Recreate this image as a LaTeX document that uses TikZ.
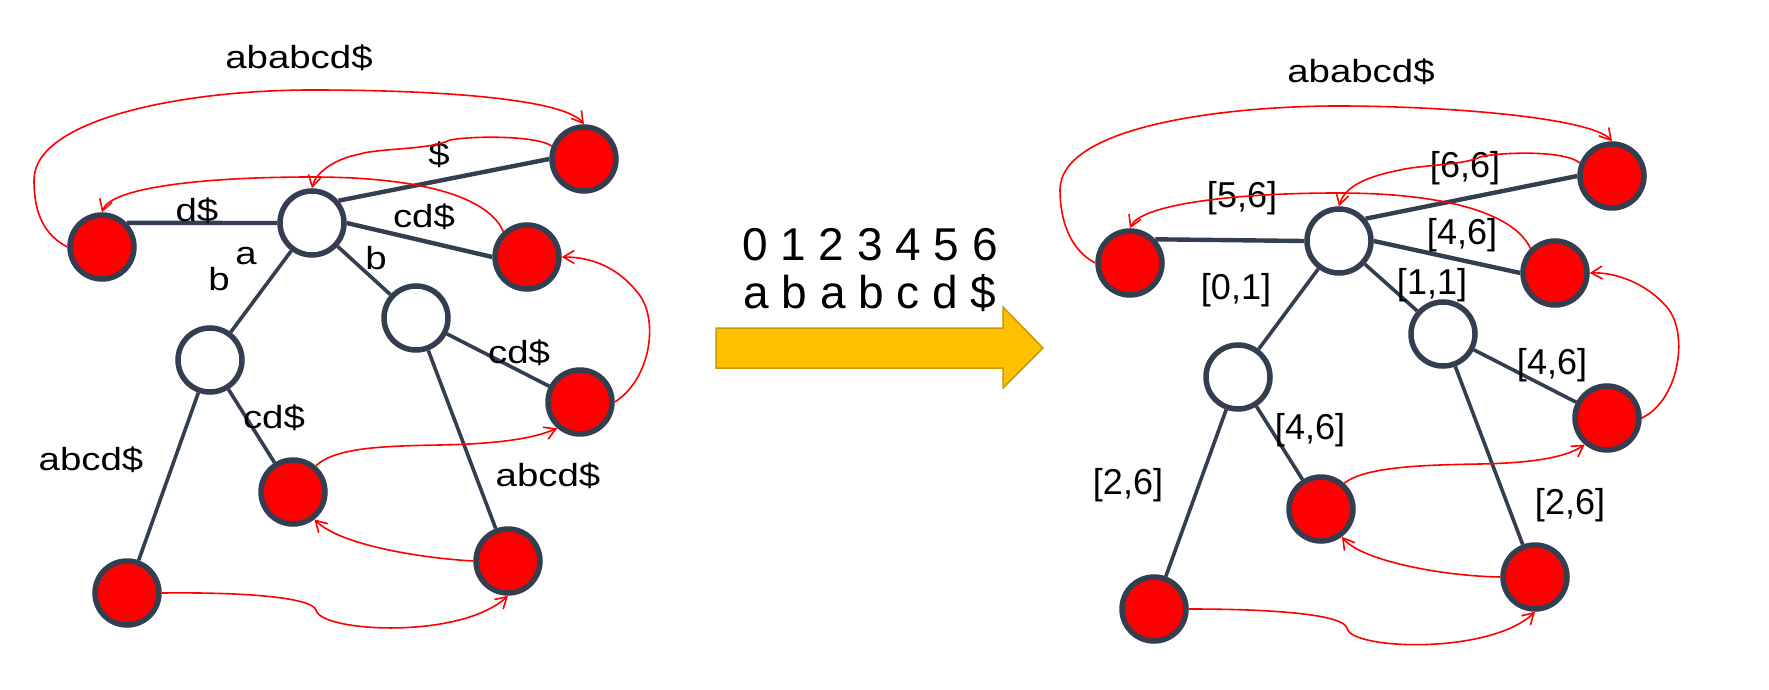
\documentclass[tikz,border=0pt]{standalone}
\usepackage{fontspec}
\setmainfont{Liberation Sans}
\newfontfamily\widefont{Liberation Sans}[FakeStretch=1.2]
\usetikzlibrary{arrows.meta}
\definecolor{slate}{RGB}{51,63,80}
\definecolor{gold}{RGB}{255,192,0}
\definecolor{darkgold}{RGB}{200,155,0}

\begin{document}
\begin{tikzpicture}[x=1pt,y=-1pt,
  knot/.style={draw=slate,fill=white,circle,line width=5.5pt,minimum size=64pt,inner sep=0pt},
  leaf/.style={knot,fill=red},
  branch/.style={draw=slate,line width=3.6pt},
  hub branch/.style={draw=slate,line width=4.4pt},
  link/.style={draw=red,line width=1.6pt,-{Straight Barb[length=11pt,width=13pt]}},
  lbl/.style={font=\widefont\fontsize{32}{36}\selectfont,inner sep=0pt},
  span/.style={font=\fontsize{36}{42}\selectfont,inner sep=0pt}]

\useasboundingbox (0,0) rectangle (1769,690);
\fill[white] (0,0) rectangle (1769,690);

%%%%%%%%%%%%%%%%%Left tree%%%%%%%%%%%%%%
%Root
\node[knot] (lroot) at (312,223){};

%Leaves round the root
\node[leaf] (lleft) at (102,247){};
\node[leaf] (ltop) at (584,159){};
\node[leaf] (lright) at (527,257){};

%Inner a and b
\node[knot] (la) at (210,360){};
\node[knot] (lb) at (416,318){};

%Leaves below
\node[leaf] (la1) at (127,593){};
\node[leaf] (la2) at (293,492){};
\node[leaf] (lb1) at (508,561){};
\node[leaf] (lb2) at (580,402){};

\draw[hub branch] (lroot.west) -- (lleft.44);
\draw[hub branch] (lroot.40) -- (ltop.west);
\draw[hub branch] (lroot.east) -- (lright.west);
\draw[branch] (lroot) -- (la);
\draw[branch] (lroot) -- (lb);
\draw[branch] (la) -- (la1);
\draw[branch] (la) -- (la2);
\draw[branch] (lb) -- (lb1);
\draw[branch] (lb) -- (lb2);

%Labels
\node[lbl] (lwhole) at (299,58){ababcd\$};
\node[lbl] (ldollar) at (439,155){\$};
\node[lbl] (ld) at (197,211){d\$};
\node[lbl] (lcd) at (424,217){cd\$};
\node[lbl] (lchara) at (246,256){a};
\node[lbl] (lcharb) at (219,279){b};
\node[lbl] (lcharbb) at (376,258){b};
\node[lbl] (lbcd) at (519,353){cd\$};
\node[lbl] (lacd) at (274,418){cd\$};
\node[lbl] (laabcd) at (91,460){abcd\$};
\node[lbl] (lbabcd) at (548,476){abcd\$};

%Suffix links
\draw[link] (lleft.180) .. controls (45,235) and (34,215) .. (34,180)
  .. controls (34,120) and (180,90) .. (312,90)
  .. controls (450,90) and (565,100) .. (ltop.90);
\draw[link] (ltop.158) .. controls (535,135) and (470,136) .. (450,140)
  .. controls (430,150) and (380,148) .. (360,154)
  .. controls (330,160) and (315,175) .. (lroot.90);
\draw[link] (lright.133) .. controls (490,200) and (430,177) .. (312,177)
  .. controls (200,177) and (110,188) .. (lleft.90);
\draw[link] (lb2.0) .. controls (650,380) and (660,320) .. (638,293)
  .. controls (620,270) and (595,257) .. (lright.0);
\draw[link] (la2.49) .. controls (335,448) and (380,446) .. (440,445)
  .. controls (490,444) and (530,440) .. (lb2.229);
\draw[link] (lb1.180) .. controls (420,558) and (340,545) .. (la2.308);
\draw[link] (la1.0) .. controls (250,592) and (312,598) .. (316,610)
  .. controls (320,632) and (460,640) .. (lb1.270);

%%%%%%%%%%%%%%%%%Middle%%%%%%%%%%%%%%
\draw[draw=darkgold,fill=gold,line width=1.5pt] (716,328) -- (1003,328) -- (1003,307)
  -- (1043,348) -- (1003,388) -- (1003,368) -- (716,368) -- cycle;
\node[font=\fontsize{46}{48}\selectfont,anchor=base,inner sep=0pt] (index) at (870,260){0 1 2 3 4 5 6};
\node[font=\fontsize{46}{48}\selectfont,anchor=base,inner sep=0pt] (text) at (870,308){a b a b c d \$};

%%%%%%%%%%%%%%%%%Right tree%%%%%%%%%%%%%%
%Root
\node[knot] (rroot) at (1339,241){};

%Leaves round the root
\node[leaf] (rleft) at (1130,263){};
\node[leaf] (rtop) at (1612,176){};
\node[leaf] (rright) at (1555,273){};

%Inner a and b
\node[knot] (ra) at (1238,377){};
\node[knot] (rb) at (1443,334){};

%Leaves below
\node[leaf] (ra1) at (1154,609){};
\node[leaf] (ra2) at (1321,509){};
\node[leaf] (rb1) at (1535,577){};
\node[leaf] (rb2) at (1607,418){};

\draw[hub branch] (rroot.west) -- (rleft.43);
\draw[hub branch] (rroot.40) -- (rtop.west);
\draw[hub branch] (rroot.east) -- (rright.west);
\draw[branch] (rroot) -- (ra);
\draw[branch] (rroot) -- (rb);
\draw[branch] (ra) -- (ra1);
\draw[branch] (ra) -- (ra2);
\draw[branch] (rb) -- (rb1);
\draw[branch] (rb) -- (rb2);

%Labels
\node[lbl] (rwhole) at (1361,72){ababcd\$};
\node[span] (rsix) at (1465,168){[6,6]};
\node[span] (rfive) at (1242,198){[5,6]};
\node[span] (rfour) at (1462,235){[4,6]};
\node[span] (rzero) at (1236,290){[0,1]};
\node[span] (rone) at (1432,285){[1,1]};
\node[span] (rbfour) at (1552,365){[4,6]};
\node[span] (rafour) at (1310,430){[4,6]};
\node[span] (ratwo) at (1128,485){[2,6]};
\node[span] (rbtwo) at (1570,505){[2,6]};

%Suffix links
\draw[link] (rleft.180) .. controls (1070,250) and (1060,220) .. (1060,190)
  .. controls (1060,125) and (1230,106) .. (1338,106)
  .. controls (1450,106) and (1592,118) .. (rtop.90);
\draw[link] (rtop.158) .. controls (1565,150) and (1500,152) .. (1480,157)
  .. controls (1465,165) and (1420,165) .. (1400,170)
  .. controls (1370,176) and (1345,185) .. (rroot.90);
\draw[link] (rright.135) .. controls (1515,215) and (1450,193) .. (1338,193)
  .. controls (1230,193) and (1140,205) .. (rleft.90);
\draw[link] (rb2.0) .. controls (1680,400) and (1690,330) .. (1665,305)
  .. controls (1645,283) and (1615,272) .. (rright.0);
\draw[link] (ra2.48) .. controls (1365,467) and (1420,465) .. (1480,464)
  .. controls (1530,463) and (1565,458) .. (rb2.230);
\draw[link] (rb1.180) .. controls (1440,576) and (1360,560) .. (ra2.307);
\draw[link] (ra1.0) .. controls (1280,609) and (1343,615) .. (1347,628)
  .. controls (1350,650) and (1490,655) .. (rb1.270);

\end{tikzpicture}
\end{document}
